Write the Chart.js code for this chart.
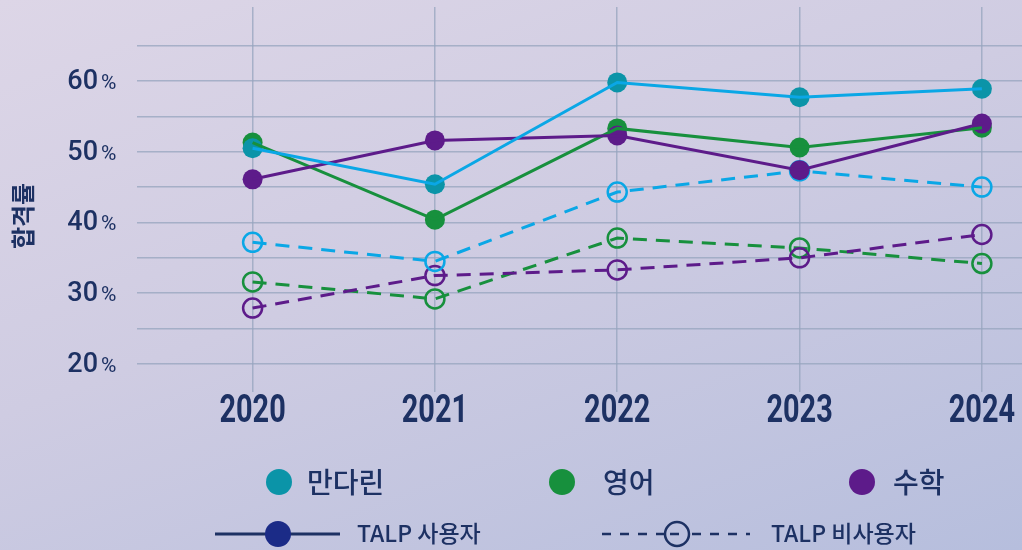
<!DOCTYPE html>
<html lang="ko">
<head>
<meta charset="utf-8">
<script src="https://cdn.jsdelivr.net/npm/chart.js@4"></script>
<style>
  html, body {
    margin: 0;
    padding: 0;
  }
  body {
    width: 1022px;
    height: 550px;
    overflow: hidden;
    background: linear-gradient(160deg, #ddd6e7 0%, #cfcce2 45%, #b6bedd 100%);
  }
  #wrap {
    position: relative;
    width: 1022px;
    height: 550px;
  }
</style>
</head>
<body>
<div id="wrap"><canvas id="passChart"></canvas></div>
<script>
const years = [2020, 2021, 2022, 2023, 2024];
const yTickLabels = [20, 30, 40, 50, 60];
const yGridValues = [20, 25, 30, 35, 40, 45, 50, 55, 60, 65];

// TALP users (solid)
const mandarinUsers = [50.5, 45.4, 59.8, 57.7, 58.9];
const englishUsers = [51.3, 40.4, 53.3, 50.6, 53.4];
const mathUsers = [46.1, 51.6, 52.3, 47.4, 54.0];

// TALP non-users (dashed)
const mandarinNonUsers = [37.2, 34.5, 44.3, 47.3, 45.0];
const englishNonUsers = [31.6, 29.2, 37.8, 36.4, 34.2];
const mathNonUsers = [27.9, 32.5, 33.3, 35.0, 38.3];

const subjects = ["만다린", "영어", "수학"];
const seriesLegend = ["TALP 사용자", "TALP 비사용자"];

const navy = "#1d3163";
const colors = {
    mandarinLine: "#0aa7e6",
    mandarinDot: "#0b94a8",
    english: "#17903d",
    math: "#5d1b8a"
};

const toPoints = values => values.map((v, i) => ({ x: years[i], y: v }));

/* Datasets */

function markerSet(values, color, order) {
    return {
        data: toPoints(values),
        showLine: false,
        pointRadius: 10,
        pointBackgroundColor: color,
        pointBorderWidth: 0,
        order: order
    };
}

function solidLine(values, color, order) {
    return {
        data: toPoints(values),
        borderColor: color,
        borderWidth: 3,
        pointRadius: 0,
        tension: 0,
        order: order
    };
}

function dashedLine(values, color, order) {
    return {
        data: toPoints(values),
        borderColor: color,
        borderWidth: 3,
        borderDash: [14, 9],
        pointRadius: 9.5,
        pointBackgroundColor: "rgba(0,0,0,0)",
        pointBorderColor: color,
        pointBorderWidth: 2.5,
        tension: 0,
        order: order
    };
}

const datasets = [
    dashedLine(englishNonUsers, colors.english, 9),
    dashedLine(mathNonUsers, colors.math, 8),
    dashedLine(mandarinNonUsers, colors.mandarinLine, 7),
    markerSet(englishUsers, colors.english, 6),
    markerSet(mathUsers, colors.math, 5),
    markerSet(mandarinUsers, colors.mandarinDot, 4),
    solidLine(englishUsers, colors.english, 3),
    solidLine(mathUsers, colors.math, 2),
    solidLine(mandarinUsers, colors.mandarinLine, 1)
];

/* Axis labels, title and legend */

const labelsPlugin = {
    id: "labels",
    afterDraw(chart) {
        const ctx = chart.ctx;
        const xScale = chart.scales.x;
        const yScale = chart.scales.y;
        ctx.save();
        ctx.fillStyle = navy;

        // y tick labels: big number + small %
        yTickLabels.forEach(v => {
            const py = yScale.getPixelForValue(v);
            ctx.font = "500 27px Roboto";
            ctx.textAlign = "right";
            ctx.textBaseline = "alphabetic";
            ctx.fillText(String(v), 98, py + 8);
            ctx.font = "400 21px Roboto";
            ctx.textAlign = "left";
            ctx.fillText("%", 101, py + 8);
        });

        // year labels (condensed)
        years.forEach(yr => {
            const px = xScale.getPixelForValue(yr);
            ctx.save();
            ctx.translate(px, 422);
            ctx.scale(0.76, 1);
            ctx.font = "700 38px Roboto";
            ctx.textAlign = "center";
            ctx.textBaseline = "alphabetic";
            ctx.fillText(String(yr), 0, 0);
            ctx.restore();
        });

        // y axis title
        ctx.save();
        ctx.translate(23, 216);
        ctx.rotate(-Math.PI / 2);
        ctx.font = "700 24px 'Noto Sans CJK KR'";
        ctx.textAlign = "center";
        ctx.textBaseline = "middle";
        ctx.fillText("합격률", 0, 0);
        ctx.restore();

        // legend row 1: subjects
        const dotColors = [colors.mandarinDot, colors.english, colors.math];
        const dotX = [279, 562, 862];
        const textX = [307, 603, 893];
        subjects.forEach((name, i) => {
            ctx.beginPath();
            ctx.arc(dotX[i], 482, 13, 0, Math.PI * 2);
            ctx.fillStyle = dotColors[i];
            ctx.fill();
            ctx.fillStyle = navy;
            ctx.font = "500 28px 'Noto Sans CJK KR'";
            ctx.textAlign = "left";
            ctx.textBaseline = "middle";
            ctx.fillText(name, textX[i], 482);
        });

        // legend row 2: line styles
        ctx.strokeStyle = navy;
        ctx.lineWidth = 3;
        ctx.beginPath();
        ctx.moveTo(215, 534);
        ctx.lineTo(340, 534);
        ctx.stroke();
        ctx.beginPath();
        ctx.arc(278, 534, 13, 0, Math.PI * 2);
        ctx.fillStyle = "#1b2b87";
        ctx.fill();

        ctx.setLineDash([9, 9]);
        ctx.lineWidth = 2.5;
        ctx.beginPath();
        ctx.moveTo(602, 534);
        ctx.lineTo(664, 534);
        ctx.moveTo(670, 534);
        ctx.lineTo(684, 534);
        ctx.stroke();
        ctx.beginPath();
        ctx.moveTo(692, 534);
        ctx.lineTo(750, 534);
        ctx.stroke();
        ctx.setLineDash([]);
        ctx.beginPath();
        ctx.arc(677, 534, 12, 0, Math.PI * 2);
        ctx.stroke();

        ctx.fillStyle = navy;
        ctx.font = "500 23px 'Noto Sans CJK KR'";
        ctx.textAlign = "left";
        ctx.textBaseline = "middle";
        ctx.fillText(seriesLegend[0], 357, 533);
        ctx.fillText(seriesLegend[1], 771, 533);

        ctx.restore();
    }
};

const gridColor = "rgba(150,164,190,0.75)";

new Chart(document.querySelector("#passChart"), {
    type: "line",
    data: { datasets: datasets },
    options: {
        responsive: true,
        maintainAspectRatio: false,
        animation: false,
        layout: {
            autoPadding: false,
            padding: { left: 137, top: 7, right: 0, bottom: 158 }
        },
        plugins: {
            legend: { display: false },
            tooltip: { enabled: false }
        },
        scales: {
            x: {
                type: "linear",
                min: 2019.366,
                max: 2024.22,
                afterBuildTicks: scale => {
                    scale.ticks = years.map(v => ({ value: v }));
                },
                grid: { color: gridColor, lineWidth: 1.5, drawTicks: false },
                border: { display: false },
                ticks: { display: false }
            },
            y: {
                min: 16.04,
                max: 70.46,
                afterBuildTicks: scale => {
                    scale.ticks = yGridValues.map(v => ({ value: v }));
                },
                grid: { color: gridColor, lineWidth: 1.5, drawTicks: false },
                border: { display: false },
                ticks: { display: false }
            }
        }
    },
    plugins: [labelsPlugin]
});
</script>
</body>
</html>
